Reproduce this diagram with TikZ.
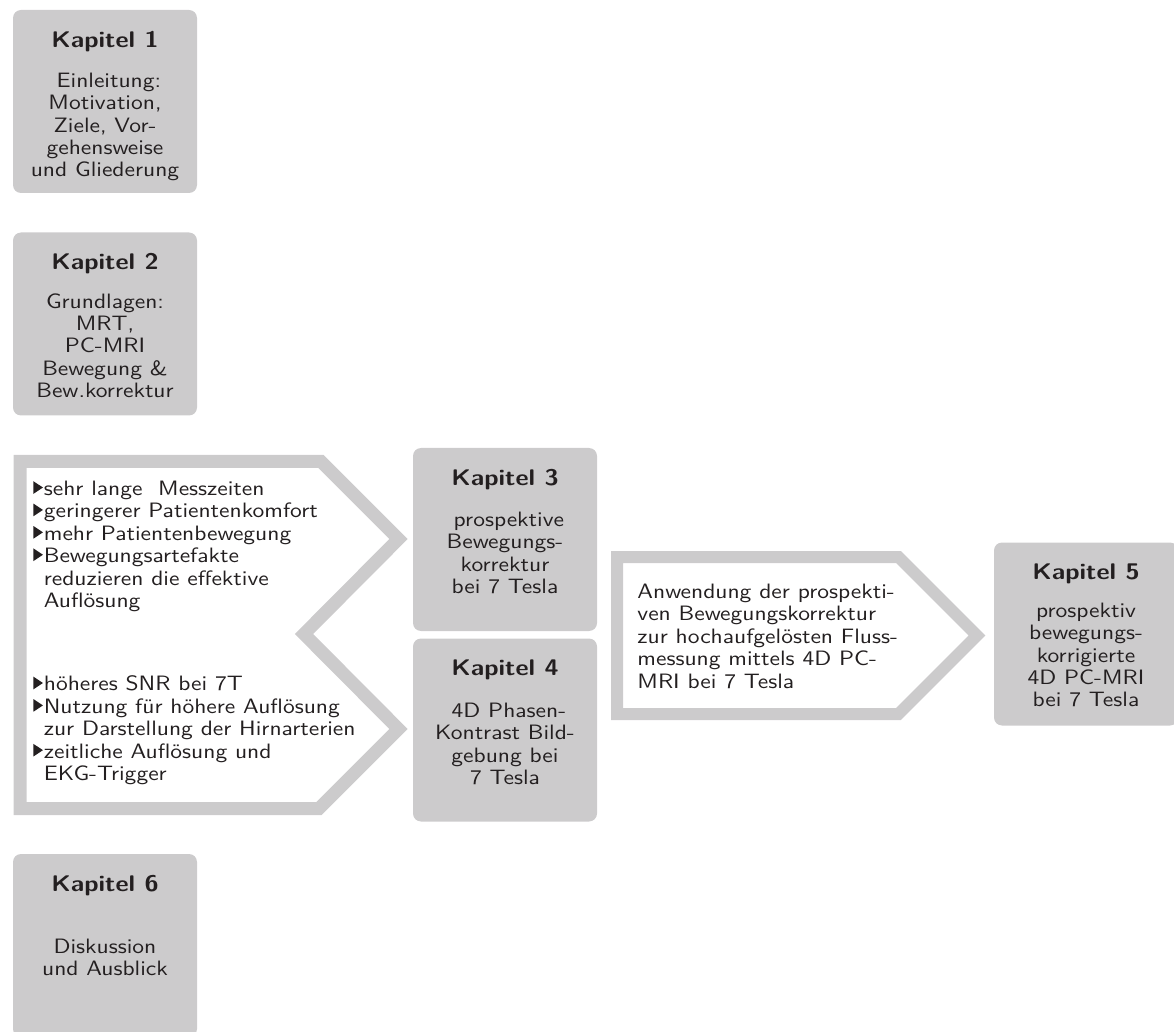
\documentclass[tikz,border=0pt]{standalone}
\usetikzlibrary{positioning}

\definecolor{boxgray}{RGB}{204,203,204}
\definecolor{textdark}{RGB}{35,31,32}

% list bullet and hanging indent
\newcommand{\itm}{\makebox[4.6pt][l]{\tikz[baseline=0pt]\fill (0pt,0.8pt) -- (0pt,7.1pt) -- (4.2pt,3.95pt) -- cycle;}}
\newcommand{\hng}{\hspace*{4.6pt}}

\begin{document}
\begin{tikzpicture}[
            x = 0.5pt, % one unit = one pixel of the sketch
            y = -0.5pt, % y runs downwards
            line join = miter,
            inner sep = 0pt
        ]

        \tikzstyle{kapitel}=[
            fill = boxgray,
            rounded corners = 4pt,
            minimum width = 92pt,
            minimum height = 91.5pt
        ]
        \tikzstyle{titel}=[
            text = textdark,
            font = \sffamily\bfseries\fontsize{11.3}{13}\selectfont,
            xscale = 1.13
        ]
        \tikzstyle{inhalt}=[
            text = textdark,
            font = \sffamily\fontsize{10.4}{11.2}\selectfont,
            align = center,
            xscale = 1.13
        ]
        \tikzstyle{liste}=[inhalt, align = left, anchor = north west]
        \tikzstyle{pfeil}=[draw = boxgray, line width = 6.5pt]

        \useasboundingbox (0,0) rectangle (1174,1032);

        % chevrons
        \draw[pfeil] (20,461.5) -- (321,461.5) -- (398.5,539) -- (304,634)
            -- (398.5,729) -- (319,808.5) -- (20,808.5) -- cycle;
        \draw[pfeil, line width = 6pt] (617,557) -- (898.5,557) -- (977,635.5)
            -- (898.5,714) -- (617,714) -- cycle;

        % chapter boxes
        \node[kapitel] (k1) at (105,101.5) {};
        \node[kapitel] (k2) at (105,324) {};
        \node[kapitel] (k3) at (505,539.5) {};
        \node[kapitel] (k4) at (505,730) {};
        \node[kapitel] (k5) at (1086,634) {};
        \node[kapitel] (k6) at (105,945.5) {};

        \node[titel, below = 10.65pt of k1.north] (k1t) {Kapitel 1};
        \node[titel, below = 10.65pt of k2.north] (k2t) {Kapitel 2};
        \node[titel, below = 10.65pt of k3.north] (k3t) {Kapitel 3};
        \node[titel, below = 10.65pt of k4.north] (k4t) {Kapitel 4};
        \node[titel, below = 10.65pt of k5.north] (k5t) {Kapitel 5};
        \node[titel, below = 10.65pt of k6.north] (k6t) {Kapitel 6};

        \node[inhalt, below = 10.1pt of k1t] (k1x)
            {\ Einleitung:\\ Motivation,\\ Ziele, Vor-\\ gehensweise\\ und Gliederung};
        \node[inhalt, below = 9.1pt of k2t] (k2x)
            {Grundlagen:\\ MRT,\\ PC-MRI\\ Bewegung \&\\ Bew.korrektur};
        \node[inhalt, below = 10.6pt of k3t] (k3x)
            {\ prospektive\\ Bewegungs-\\ korrektur\\ bei 7 Tesla};
        \node[inhalt, below = 11.1pt of k4t] (k4x)
            {\ 4D Phasen-\\ Kontrast Bild-\\ gebung bei\\ 7 Tesla};
        \node[inhalt, below = 9.1pt of k5t] (k5x)
            {prospektiv\\ bewegungs-\\ korrigierte\\ 4D PC-MRI\\ bei 7 Tesla};
        \node[inhalt, below = 21.1pt of k6t] (k6x)
            {Diskussion\\ und Ausblick};

        % text inside the chevrons
        \node[liste] (probleme) at (33,480.6)
            {\itm sehr lange~ Messzeiten\\ \itm geringerer Patientenkomfort\\
             \itm mehr Patientenbewegung\\ \itm Bewegungsartefakte\\
             \hng reduzieren die effektive\\ \hng Auflösung};
        \node[liste] (vorteile) at (33,675.6)
            {\itm höheres SNR bei 7T\\ \itm Nutzung für höhere Auflösung\\
             \hng zur Darstellung der Hirnarterien\\ \itm zeitliche Auflösung und\\
             \hng EKG-Trigger};
        \node[liste] (anwendung) at (637,583.6)
            {Anwendung der prospekti-\\ ven Bewegungskorrektur\\
             zur hochaufgelösten Fluss-\\ messung mittels 4D PC-\\ MRI bei 7 Tesla};

    \end{tikzpicture}
\end{document}
